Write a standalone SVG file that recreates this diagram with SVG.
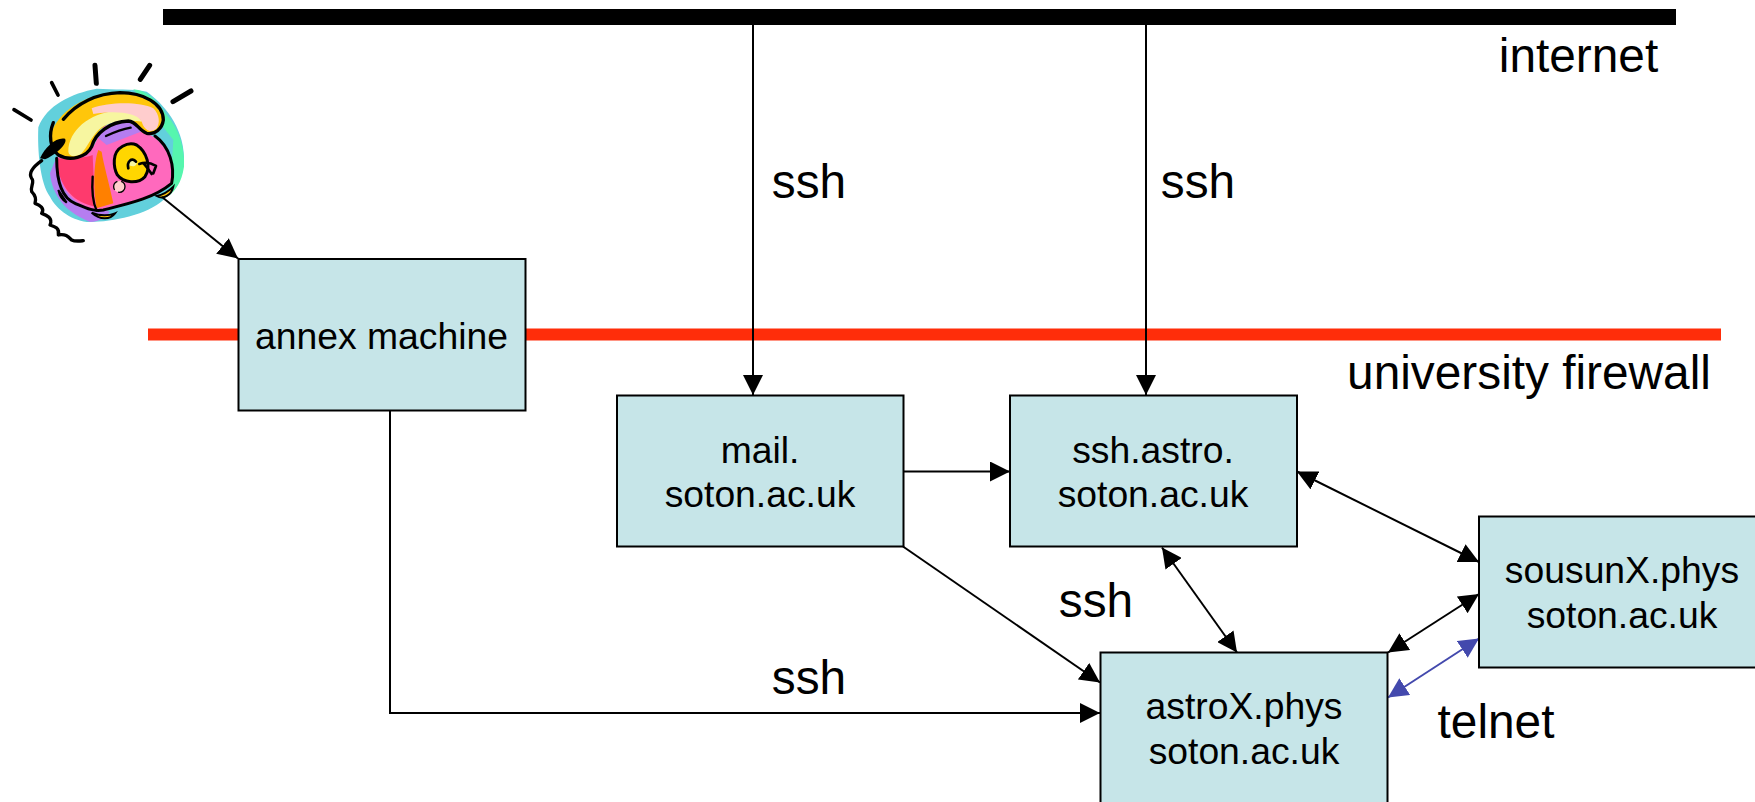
<svg xmlns="http://www.w3.org/2000/svg" width="1755" height="802" viewBox="0 0 1755 802">
<style>
.box{fill:#c6e5e8;stroke:#000;stroke-width:2}
.t{font-family:"Liberation Sans",Arial,sans-serif;fill:#000;text-anchor:middle}
.n{font-size:37.300px}
.l{font-size:47.800px}
.c{fill:none;stroke:#000;stroke-width:2}
.b{fill:none;stroke:#4349ad;stroke-width:2}
.k{fill:none;stroke:#000;stroke-linecap:round;stroke-linejoin:round}
</style>
<defs>
<marker id="a" markerUnits="userSpaceOnUse" markerWidth="20" markerHeight="20" refX="20" refY="10" orient="auto-start-reverse"><path d="M0 0L20 10L0 20Z" fill="#000"/></marker>
<marker id="ab" markerUnits="userSpaceOnUse" markerWidth="20" markerHeight="20" refX="20" refY="10" orient="auto-start-reverse"><path d="M0 0L20 10L0 20Z" fill="#4349ad"/></marker>
</defs>
<rect id="internet-bar" x="163" y="9" width="1513" height="16" fill="#000"/>
<rect id="firewall-bar" x="148" y="328.500" width="1573" height="12" fill="#ff2d0a"/>
<g id="phone" transform="translate(0,40) scale(.3333)">
<path d="M115 262C140 195 215 160 290 146C340 150 400 145 440 155C490 190 550 260 552 350C550 420 525 450 490 480C440 525 340 545 270 546C220 545 170 510 150 470C120 430 112 330 115 262Z" fill="#62d0dc"/>
<path d="M400 148C440 150 470 180 500 225C540 270 555 330 552 380C545 430 525 450 510 465L520 300Z" fill="#56f6ae"/>
<path d="M170 350L150 400C155 450 180 510 270 546C300 545 320 530 330 515L280 500Z" fill="#b57df0"/>
<path d="M170 350C200 355 250 350 280 320L310 260C340 245 400 240 440 280C490 300 525 360 520 420C505 460 420 490 290 510C230 495 175 460 170 350Z" fill="#ff69bd"/>
<path d="M170 355C200 358 250 355 278 345L285 500C230 490 175 450 170 355Z" fill="#fe3a6d"/>
<path d="M295 330C280 370 280 450 290 505L340 490C330 440 310 370 305 335Z" fill="#ff8000"/>
<path d="M290 290C320 250 370 235 410 245L430 272L320 315Z" fill="#b57df0"/>
<path d="M150 295C160 230 240 165 340 158C420 155 480 190 490 240C485 270 460 285 430 280C415 265 400 240 350 243C310 250 285 280 275 315C260 350 220 358 190 352C165 340 150 320 150 295Z" fill="#ffc60a"/>
<path d="M205 335C205 270 270 220 345 212C385 212 420 225 425 245C390 240 340 240 305 262C275 285 265 320 240 345C220 352 207 348 205 335Z" fill="#f7f6a0"/>
<path d="M275 205C330 185 420 185 460 205C480 225 480 250 470 265C455 280 435 275 425 245C410 215 340 212 280 222Z" fill="#ffcdcd"/>
<path d="M343 360C345 320 385 305 410 315C440 335 455 380 435 410C415 432 370 430 352 405C345 392 342 375 343 360Z" fill="#ffd600" stroke="#000" stroke-width="9"/>
<path d="M385 362C395 352 410 360 410 372C405 382 390 380 385 372Z" fill="#f7f6a0"/>
<path class="k" stroke-width="8" d="M385 385C380 365 395 350 408 365M418 372C435 365 455 370 468 378L460 400M430 370C440 380 450 395 455 402"/>
<circle cx="358" cy="440" r="17" fill="#ffcdcd" stroke="#000" stroke-width="4" stroke-dasharray="30 12"/>
<path d="M175 450C180 475 195 485 200 488L175 450ZM275 518C300 540 330 540 345 520C320 530 300 528 275 518ZM470 468C490 480 515 465 520 440C505 455 490 465 470 468Z" fill="#ffc60a" stroke="#000" stroke-width="6"/>
<path class="k" stroke-width="10" d="M190 238C230 190 290 160 360 158C430 158 490 190 490 240C487 265 465 285 440 280C415 270 410 245 385 243C330 245 285 280 275 320C260 352 210 365 175 345C150 325 145 285 160 248"/>
<path class="k" stroke-width="7" d="M318 288C340 278 365 268 392 263"/>
<path class="k" stroke-width="9" d="M170 355C170 400 175 470 225 490C260 505 280 515 310 510C390 490 460 475 515 430C525 380 510 320 465 288"/>
<path class="k" stroke-width="7" d="M278 410C275 450 280 490 290 512"/>
<path d="M120 355C135 320 170 290 195 296C205 310 165 345 135 358Z" fill="#000"/>
<path class="k" stroke-width="10" d="M125 362C100 380 85 400 95 415C105 425 90 440 95 455C105 465 110 475 105 490C120 495 135 505 125 520C140 525 160 535 150 555C165 560 180 565 175 585C195 580 205 590 215 600C225 605 240 603 250 602"/>
<path class="k" stroke-width="11" d="M42 209L93 240M155 128L174 165"/>
<path class="k" stroke-width="15" d="M285 76L289 130M449 76L421 118M573 153L519 185"/>
</g>
<g id="connectors">
<path class="c" d="M162 197L238 258.500" marker-end="url(#a)"/>
<path class="c" d="M753 25V395" marker-end="url(#a)"/>
<path class="c" d="M1146 25V395" marker-end="url(#a)"/>
<path class="c" d="M903 471.500H1010" marker-end="url(#a)"/>
<path class="c" d="M903 546.500L1100 682.500" marker-end="url(#a)"/>
<path class="c" d="M390 410V713H1100" marker-end="url(#a)"/>
<path class="c" d="M1297 471.500L1479 562" marker-start="url(#a)" marker-end="url(#a)"/>
<path class="c" d="M1162 547.500L1237 652.500" marker-start="url(#a)" marker-end="url(#a)"/>
<path class="c" d="M1388 652.500L1479 594" marker-start="url(#a)" marker-end="url(#a)"/>
<path class="b" d="M1388 697.500L1479 638.500" marker-start="url(#ab)" marker-end="url(#ab)"/>
</g>
<g id="annex"><rect class="box" x="238.500" y="259" width="287" height="151.500"/><text class="t n" x="381.500" y="348.500">annex machine</text></g>
<g id="mail"><rect class="box" x="617" y="395.500" width="286.500" height="151"/><text class="t n" x="760" y="462.500">mail.</text><text class="t n" x="760" y="507">soton.ac.uk</text></g>
<g id="ssh-astro"><rect class="box" x="1010" y="395.500" width="287" height="151"/><text class="t n" x="1153" y="462.500">ssh.astro.</text><text class="t n" x="1153" y="507">soton.ac.uk</text></g>
<g id="sousun"><rect class="box" x="1479" y="516.500" width="290" height="151"/><text class="t n" x="1622" y="583">sousunX.phys</text><text class="t n" x="1622" y="628">soton.ac.uk</text></g>
<g id="astro"><rect class="box" x="1100.500" y="652.500" width="287" height="170"/><text class="t n" x="1244" y="719">astroX.phys</text><text class="t n" x="1244" y="764">soton.ac.uk</text></g>
<g id="labels">
<text class="t l" x="1578.500" y="72">internet</text>
<text class="t l" x="1529" y="389.300">university firewall</text>
<text class="t l" x="809" y="198">ssh</text>
<text class="t l" x="1198" y="198">ssh</text>
<text class="t l" x="1096" y="617">ssh</text>
<text class="t l" x="809" y="694">ssh</text>
<text class="t l" x="1496" y="738">telnet</text>
</g>
</svg>
